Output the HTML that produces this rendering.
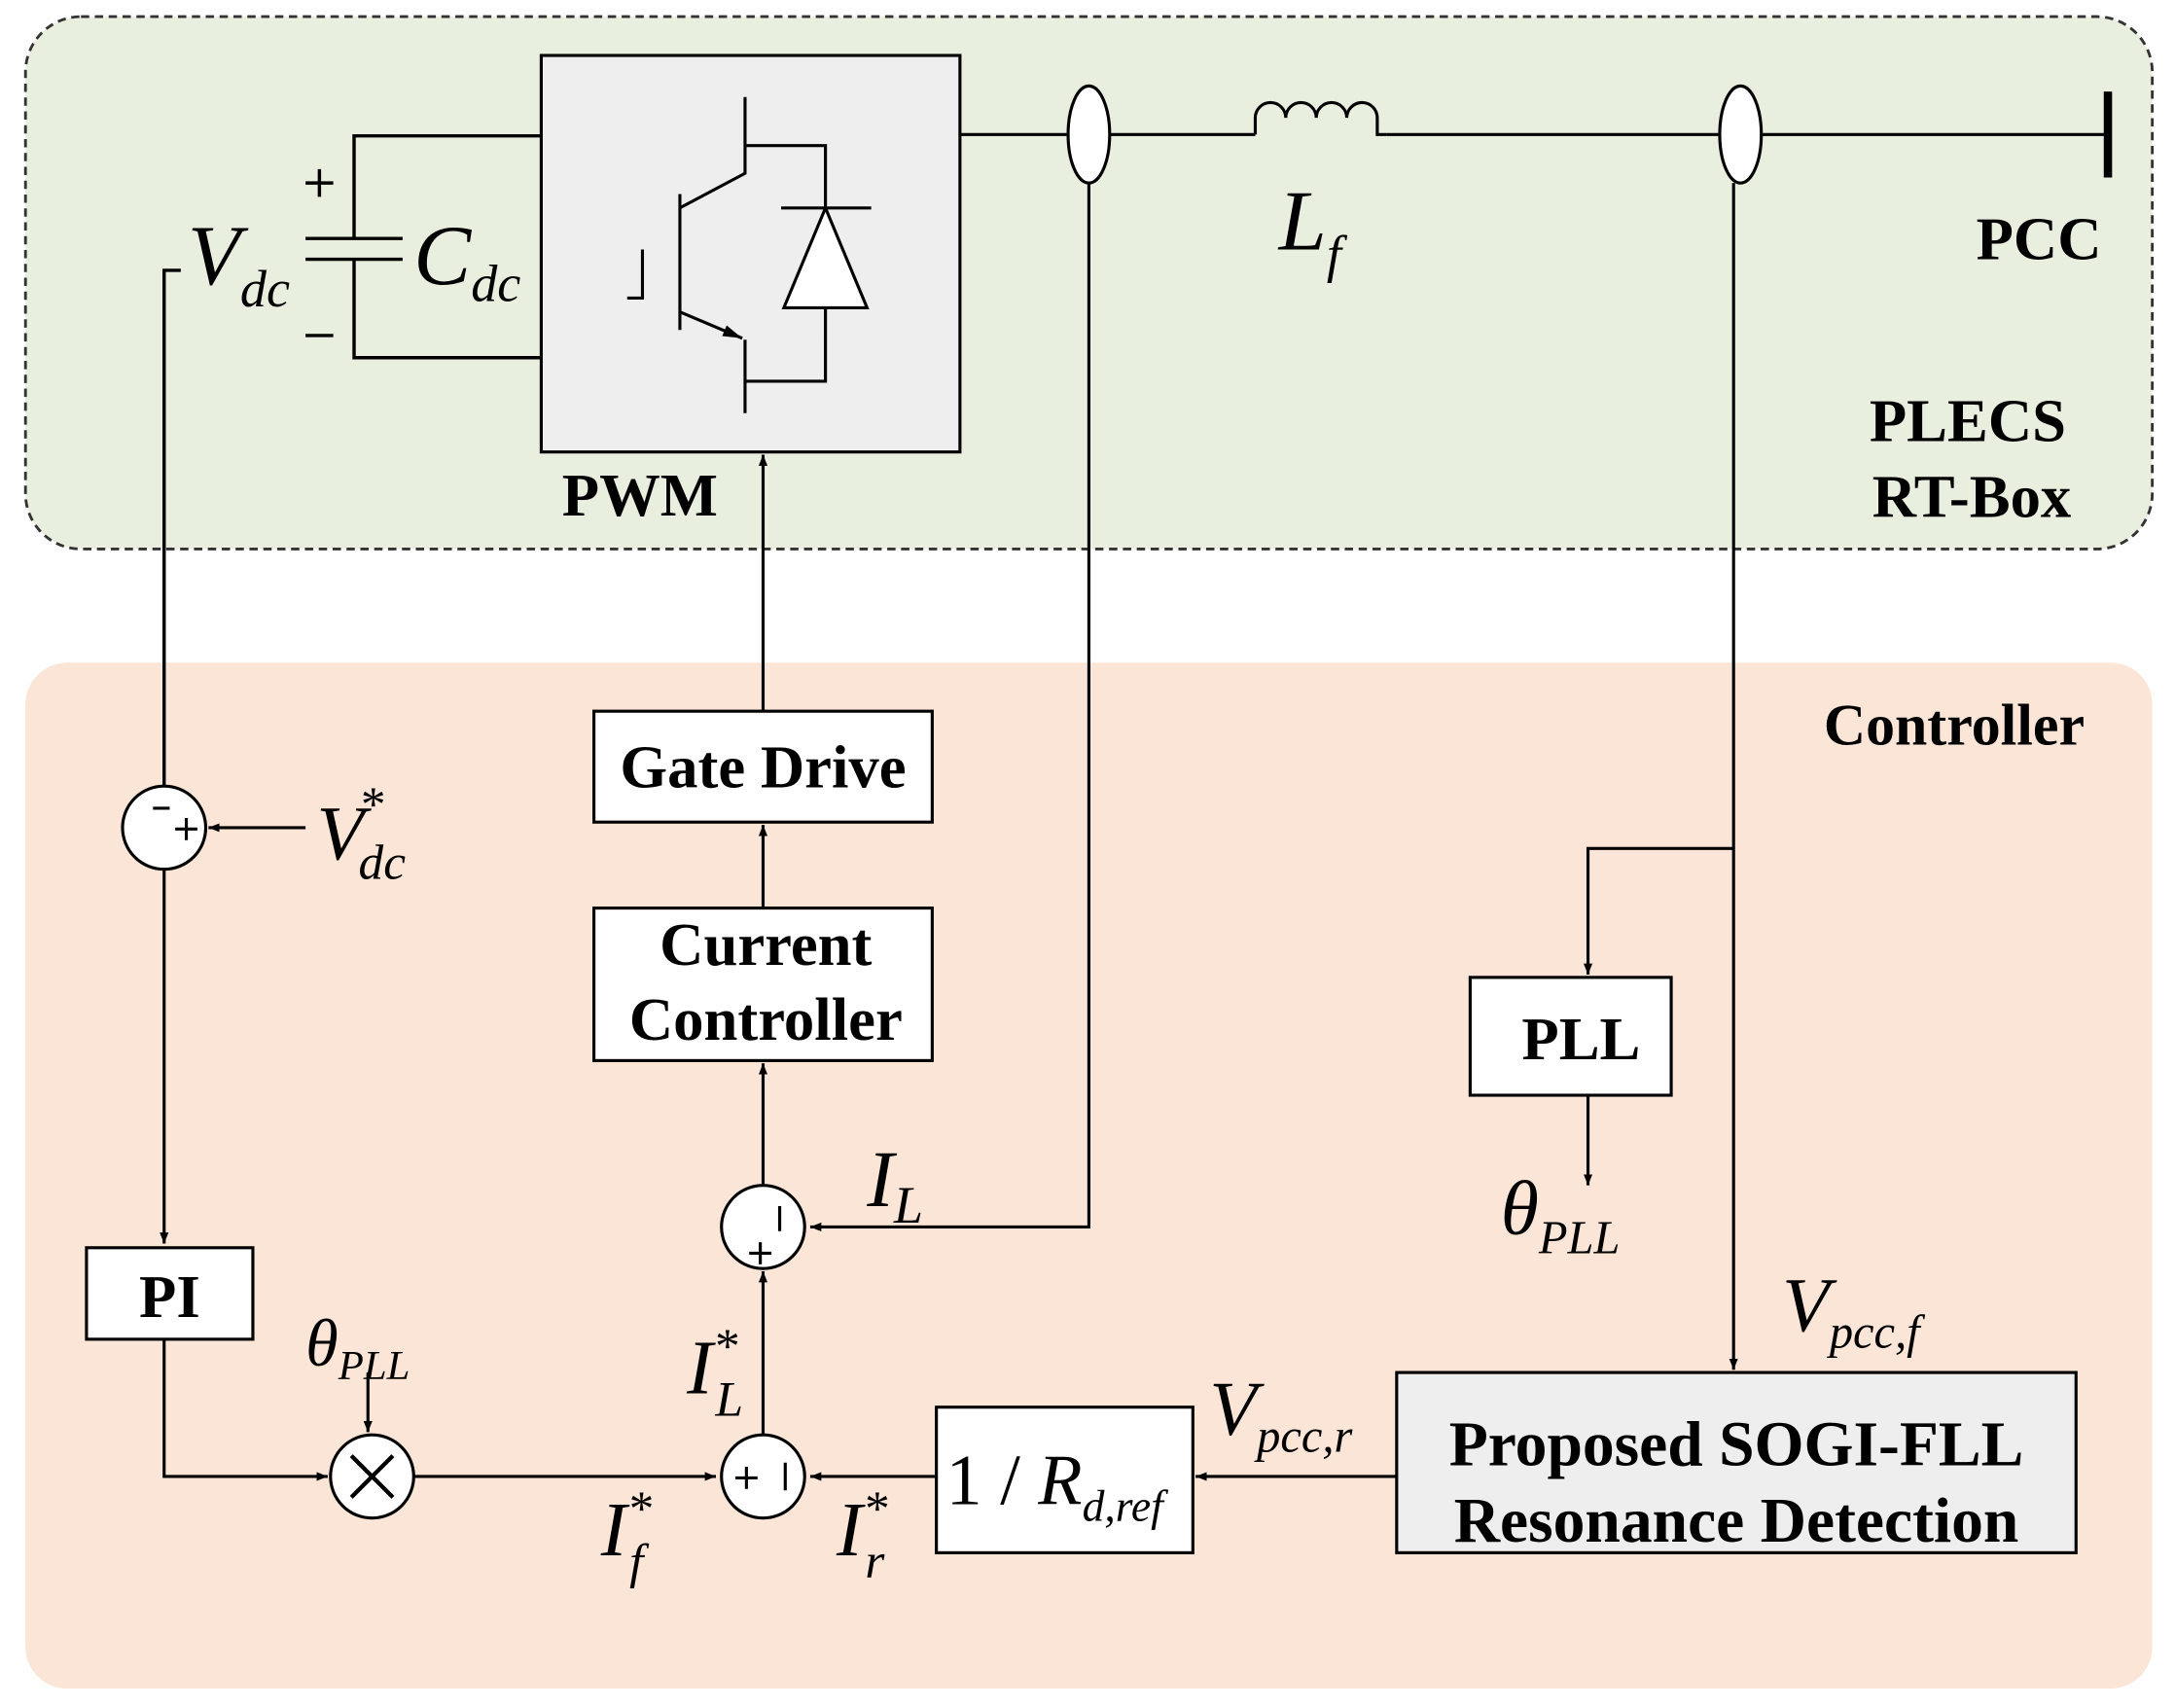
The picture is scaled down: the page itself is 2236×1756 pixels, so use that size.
<!DOCTYPE html>
<html><head><meta charset="utf-8"><style>
html,body{margin:0;padding:0;background:#fff}
svg{display:block}
text{font-family:"Liberation Serif",serif;fill:#000}
.b{font-weight:bold}
.i{font-style:italic}
</style></head><body>
<svg width="2236" height="1756" viewBox="0 0 1568 1232" xmlns="http://www.w3.org/2000/svg">
<defs>
<marker id="a" viewBox="0 0 10 10" refX="10" refY="5" markerWidth="8" markerHeight="8" orient="auto" markerUnits="userSpaceOnUse"><path d="M0,1 L10,5 L0,9 z" fill="#000"/></marker>
<marker id="A" viewBox="0 0 10 10" refX="10" refY="5" markerWidth="14" markerHeight="14" orient="auto" markerUnits="userSpaceOnUse"><path d="M0,2 L10,5 L0,8 z" fill="#000"/></marker>
</defs>
<rect x="18" y="12" width="1534" height="384" rx="40" fill="#e9efdf" stroke="#333" stroke-width="2" stroke-dasharray="6,4"/>
<rect x="18" y="478" width="1534" height="740" rx="30" fill="#fbe5d6"/>
<g stroke="#000" stroke-width="2.4" fill="none">
<path d="M390,98 H255 V172 M220,172 H290 M220,187 H290 M255,187 V258 H390"/>
<path d="M220,132 H240 M230,122 V142 M220,242 H240"/>
<path d="M130,195 H118 V582" marker-end="url(#a)"/>
</g>
<rect x="390" y="40" width="302" height="286" fill="#eeeeee" stroke="#000" stroke-width="2.2"/>
<g stroke="#000" stroke-width="2.2" fill="none">
<path d="M537,70 V125 L490,150 M490,140 V238 M463,180 V215 H452"/>
<path d="M490,225 L535,244" marker-end="url(#A)"/>
<path d="M537,245 V298 M537,105 H595 V150 M563,150 H628 M595,222 V275 H537"/>
<path d="M595,150 L565,222 H625 Z" fill="#fff"/>
<path d="M692,97 H770 M800,97 H905 M1000,97 H1240 M1270,97 H1520"/>
<path d="M905,97 V85 a11,11 0 0 1 22,0 a11,11 0 0 1 22,0 a11,11 0 0 1 22,0 a11,11 0 0 1 22,0 V97 H1000" />
<ellipse cx="785" cy="97" rx="15" ry="35" fill="#fff"/>
<ellipse cx="1255" cy="97" rx="15" ry="35" fill="#fff"/>
<path d="M785,132 V885 H584" marker-end="url(#a)"/>
<path d="M1250,132 V988" marker-end="url(#a)"/>
<path d="M1250,612 H1145 V703" marker-end="url(#a)"/>
<path d="M1145,790 V855" marker-end="url(#a)"/>
<path d="M1007,1065 H862" marker-end="url(#a)"/>
<path d="M675,1065 H584" marker-end="url(#a)"/>
<path d="M118,627 V897" marker-end="url(#a)"/>
<path d="M118,966 V1065 H236" marker-end="url(#a)"/>
<path d="M265,990 V1033" marker-end="url(#a)"/>
<path d="M298,1065 H516" marker-end="url(#a)"/>
<path d="M550,1035 V917" marker-end="url(#a)"/>
<path d="M550,855 V767" marker-end="url(#a)"/>
<path d="M550,655 V595" marker-end="url(#a)"/>
<path d="M550,513 V328" marker-end="url(#a)"/>
<path d="M220,597 H150" marker-end="url(#a)"/>
</g>
<line x1="1520" y1="66" x2="1520" y2="128" stroke="#000" stroke-width="6"/>
<g stroke="#000" stroke-width="2.2">
<circle cx="118" cy="597" r="30" fill="#fff"/>
<circle cx="550" cy="885" r="30" fill="#fff"/>
<circle cx="550" cy="1065" r="30" fill="#fff"/>
<circle cx="268" cy="1065" r="30" fill="#fff"/>
<path d="M253,1050 L283,1080 M283,1050 L253,1080" stroke-width="3"/>
<path d="M110,583 H122 M126,598 H142 M134,590 V606"/>
<path d="M540,904 H556 M548,896 V912 M562,870 V888"/>
<path d="M530,1066 H546 M538,1058 V1074 M566,1055 V1075"/>
<rect x="428" y="513" width="244" height="80" fill="#fff"/>
<rect x="428" y="655" width="244" height="110" fill="#fff"/>
<rect x="1060" y="705" width="145" height="85" fill="#fff"/>
<rect x="62" y="900" width="120" height="66" fill="#fff"/>
<rect x="675" y="1015" width="185" height="105" fill="#fff"/>
<rect x="1007" y="990" width="490" height="130" fill="#eeeeee"/>
</g>
<g class="b" font-size="44">
<text x="1425" y="187">PCC</text>
<text x="1348" y="318">PLECS</text>
<text x="1350" y="373">RT-Box</text>
<text x="405" y="372">PWM</text>
<text x="1315" y="537" font-size="42">Controller</text>
<text x="550" y="568" text-anchor="middle">Gate Drive</text>
<text x="552" y="696" text-anchor="middle">Current</text>
<text x="552" y="750" text-anchor="middle">Controller</text>
<text x="1140" y="764" text-anchor="middle">PLL</text>
<text x="122" y="950" text-anchor="middle">PI</text>
<text x="1252" y="1057" text-anchor="middle" font-size="46">Proposed SOGI-FLL</text>
<text x="1252" y="1112" text-anchor="middle" font-size="46">Resonance Detection</text>
</g>
<g class="i">
<text x="135" y="205" font-size="62">V<tspan font-size="38" dy="16">dc</tspan></text>
<text x="298" y="205" font-size="62">C<tspan font-size="38" dy="12">dc</tspan></text>
<text x="922" y="180" font-size="62">L<tspan font-size="38" dy="16">f</tspan></text>
<text x="228" y="620" font-size="56">V<tspan font-size="36" dy="-28" dx="-4">*</tspan><tspan font-size="36" dy="42" dx="-18">dc</tspan></text>
<text x="625" y="870" font-size="58">I<tspan font-size="38" dy="12">L</tspan></text>
<text x="1082" y="890" font-size="56">θ<tspan font-size="34" dy="14">PLL</tspan></text>
<text x="220" y="985" font-size="48">θ<tspan font-size="30" dy="10">PLL</tspan></text>
<text x="1285" y="960" font-size="56">V<tspan font-size="34" dy="12">pcc,f</tspan></text>
<text x="872" y="1035" font-size="56">V<tspan font-size="34" dy="12">pcc,r</tspan></text>
<text x="495" y="1005" font-size="56">I<tspan font-size="36" dy="-22">*</tspan><tspan font-size="36" dy="38" dx="-16">L</tspan></text>
<text x="433" y="1122" font-size="56">I<tspan font-size="36" dy="-22">*</tspan><tspan font-size="36" dy="38" dx="-16">f</tspan></text>
<text x="603" y="1122" font-size="56">I<tspan font-size="36" dy="-22">*</tspan><tspan font-size="36" dy="38" dx="-16">r</tspan></text>
</g>
<text x="682" y="1085" font-size="52">1 / <tspan class="i">R</tspan><tspan class="i" font-size="32" dy="12">d,ref</tspan></text>
</svg>
</body></html>
